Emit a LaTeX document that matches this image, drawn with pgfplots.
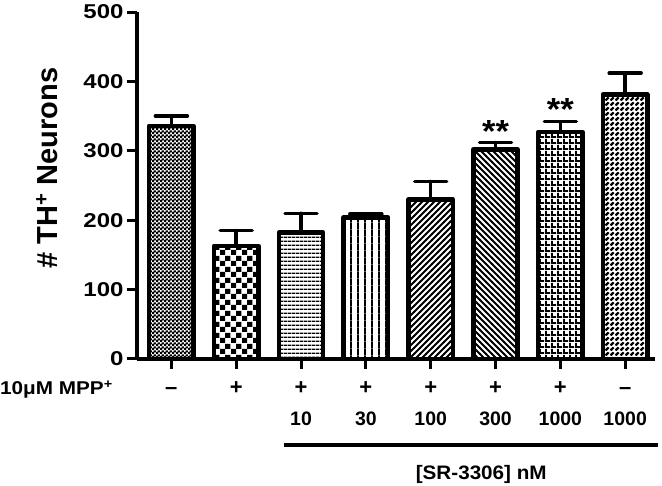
\documentclass[border=0pt]{standalone}
\usepackage{fontspec}
\setmainfont{Liberation Sans}
\usepackage{graphicx}
\usepackage{pgfplots}
\pgfplotsset{compat=1.18}
\usetikzlibrary{patterns}
% the reference's text is set a little wider than Arial
\newcommand{\W}[2][1.12]{\scalebox{#1}[1]{#2}}

% fill patterns of the eight bars
\pgfdeclarepatternformonly{finecheck}{\pgfqpoint{0pt}{0pt}}{\pgfqpoint{4pt}{4pt}}{\pgfqpoint{4pt}{4pt}}{%
  \pgfpathrectangle{\pgfqpoint{0pt}{0pt}}{\pgfqpoint{2.6pt}{2.6pt}}%
  \pgfpathrectangle{\pgfqpoint{2pt}{2pt}}{\pgfqpoint{2.6pt}{2.6pt}}\pgfusepath{fill}}
\pgfdeclarepatternformonly{bigcheck}{\pgfqpoint{0pt}{0pt}}{\pgfqpoint{11pt}{11pt}}{\pgfqpoint{11pt}{11pt}}{%
  \pgfpathrectangle{\pgfqpoint{0pt}{0pt}}{\pgfqpoint{5.5pt}{5.5pt}}%
  \pgfpathrectangle{\pgfqpoint{5.5pt}{5.5pt}}{\pgfqpoint{5.5pt}{5.5pt}}\pgfusepath{fill}}
\pgfdeclarepatternformonly{hstripes}{\pgfqpoint{0pt}{0pt}}{\pgfqpoint{4pt}{4pt}}{\pgfqpoint{4pt}{4pt}}{%
  \pgfpathrectangle{\pgfqpoint{0pt}{0pt}}{\pgfqpoint{4pt}{1.8pt}}\pgfusepath{fill}}
\pgfdeclarepatternformonly{vstripes}{\pgfqpoint{0pt}{0pt}}{\pgfqpoint{7.3pt}{7.3pt}}{\pgfqpoint{7.3pt}{7.3pt}}{%
  \pgfpathrectangle{\pgfqpoint{0pt}{0pt}}{\pgfqpoint{2pt}{7.3pt}}\pgfusepath{fill}}
\pgfdeclarepatternformonly{nestripes}{\pgfqpoint{-1pt}{-1pt}}{\pgfqpoint{7pt}{7pt}}{\pgfqpoint{6pt}{6pt}}{%
  \pgfsetlinewidth{1.8pt}\pgfpathmoveto{\pgfqpoint{-0.5pt}{-0.5pt}}%
  \pgfpathlineto{\pgfqpoint{6.5pt}{6.5pt}}\pgfusepath{stroke}}
\pgfdeclarepatternformonly{nwstripes}{\pgfqpoint{-1pt}{-1pt}}{\pgfqpoint{7pt}{7pt}}{\pgfqpoint{6pt}{6pt}}{%
  \pgfsetlinewidth{2pt}\pgfpathmoveto{\pgfqpoint{-0.5pt}{6.5pt}}%
  \pgfpathlineto{\pgfqpoint{6.5pt}{-0.5pt}}\pgfusepath{stroke}}
\pgfdeclarepatternformonly{squaregrid}{\pgfqpoint{0pt}{0pt}}{\pgfqpoint{5.5pt}{5.5pt}}{\pgfqpoint{5.5pt}{5.5pt}}{%
  \pgfpathrectangle{\pgfqpoint{0pt}{0pt}}{\pgfqpoint{5.5pt}{2pt}}%
  \pgfpathrectangle{\pgfqpoint{0pt}{0pt}}{\pgfqpoint{2pt}{5.5pt}}\pgfusepath{fill}}
\pgfdeclarepatternformonly{dashes}{\pgfqpoint{0pt}{0pt}}{\pgfqpoint{5pt}{5pt}}{\pgfqpoint{5pt}{5pt}}{%
  \pgfsetlinewidth{2.6pt}\pgfpathmoveto{\pgfqpoint{0.7pt}{0.7pt}}%
  \pgfpathlineto{\pgfqpoint{4.3pt}{4.3pt}}\pgfusepath{stroke}}

\begin{document}
\begin{tikzpicture}
\useasboundingbox (-137pt,-127pt) rectangle (525pt,359pt);
\begin{axis}[
    scale only axis,
    width=518pt, height=347pt,
    ybar, bar width=0.684,
    xmin=-0.53, xmax=7.46,
    ymin=0, ymax=500,
    ytick={0,100,...,500},
    yticklabel={\W[1.2]{\pgfmathprintnumber{\tick}}},
    xtick={0,...,7},
    xticklabels={–,+,+,+,+,+,+,–},
    extra x ticks={2,...,7},
    extra x tick labels={10,30,100,300,1000,1000},
    extra x tick style={xticklabel style={font=\fontsize{19.5}{22}\selectfont\bfseries,
      text height=22.5pt, yshift=-30.5pt}},
    axis lines=left,
    axis line style={-, line width=3.5pt},
    tick style={line width=3pt, black},
    major tick length=10pt,
    tick align=outside,
    /pgf/number format/assume math mode=true,
    yticklabel style={font=\fontsize{20}{24}\selectfont\bfseries},
    xticklabel style={font=\fontsize{22}{24}\selectfont\bfseries, inner sep=3pt,
      text height=22.5pt, text depth=0pt},
    ylabel={\fontsize{29}{30}\selectfont\bfseries \# TH\textsuperscript{+} Neurons},
    ylabel style={at={(axis description cs:-0.174,0.55)}, anchor=center},
    clip=false,
    every axis plot/.append style={bar shift=0pt, draw=black, line width=4.5pt, line join=round,
      error bars/y dir=plus, error bars/y explicit,
      error bars/error mark=|,
      error bars/error bar style={line width=3.5pt, line cap=round},
      error bars/error mark options={line width=3.5pt, mark size=16pt, line cap=round}},
]
\addplot[pattern=finecheck] coordinates {(0,336) +- (0,14)};
\addplot[pattern=bigcheck] coordinates {(1,163) +- (0,22)};
\addplot[pattern=hstripes] coordinates {(2,182) +- (0,28)};
\addplot[pattern=vstripes] coordinates {(3,204) +- (0,5)};
\addplot[pattern=nestripes] coordinates {(4,230) +- (0,26)};
\addplot[pattern=nwstripes] coordinates {(5,302) +- (0,10)};
\addplot[pattern=squaregrid] coordinates {(6,327) +- (0,15)};
\addplot[pattern=dashes] coordinates {(7,381) +- (0,31)};

\node[anchor=north, inner sep=0pt, font=\fontsize{32}{32}\selectfont\bfseries] at (axis cs:5,344) {\W[1.08]{**}};
\node[anchor=north, inner sep=0pt, font=\fontsize{32}{32}\selectfont\bfseries] at (axis cs:6,375) {\W[1.08]{**}};

\node[anchor=base west, inner sep=0pt, font=\fontsize{18.5}{22}\selectfont\bfseries]
  at (axis description cs:-0.2645,-0.1037) {\W{10μM MPP\textsuperscript{+}}};
\draw[line width=4.5pt] (axis cs:1.74,-124) -- (axis cs:7.51,-124);
\node[font=\fontsize{19.5}{22}\selectfont\bfseries] at (axis cs:4.78,-167) {\W[1.06]{[SR-3306] nM}};
\end{axis}
\end{tikzpicture}
\end{document}
